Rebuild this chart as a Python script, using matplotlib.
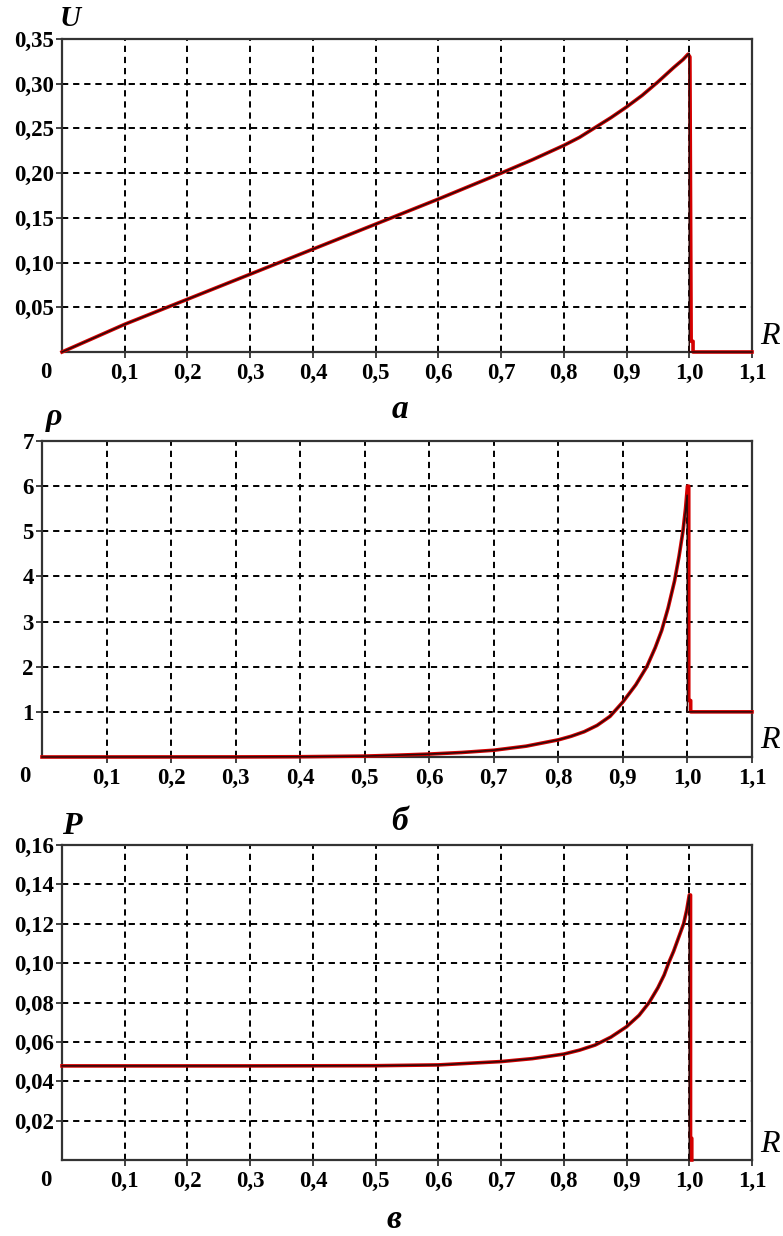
import matplotlib
matplotlib.use("Agg")
import matplotlib.pyplot as plt

plt.rcParams['lines.scale_dashes'] = False

# ---------------- data ----------------
R_ticks = [0.1, 0.2, 0.3, 0.4, 0.5, 0.6, 0.7, 0.8, 0.9, 1.0, 1.1]
R_tick_labels = ["0,1", "0,2", "0,3", "0,4", "0,5", "0,6", "0,7", "0,8", "0,9", "1,0", "1,1"]

U_ticks = [0.05, 0.10, 0.15, 0.20, 0.25, 0.30, 0.35]
U_tick_labels = ["0,05", "0,10", "0,15", "0,20", "0,25", "0,30", "0,35"]
rho_ticks = [1, 2, 3, 4, 5, 6, 7]
rho_tick_labels = ["1", "2", "3", "4", "5", "6", "7"]
P_ticks = [0.02, 0.04, 0.06, 0.08, 0.10, 0.12, 0.14, 0.16]
P_tick_labels = ["0,02", "0,04", "0,06", "0,08", "0,10", "0,12", "0,14", "0,16"]

# velocity
R_U = [0, 0.1, 0.2, 0.3, 0.4, 0.5, 0.6, 0.7, 0.75, 0.8, 0.825, 0.85, 0.875, 0.9, 0.925, 0.95,
       0.975, 0.99, 1.0, 1.0, 1.1]
U_exact = [0, 0.031, 0.059, 0.087, 0.115, 0.143, 0.171, 0.200, 0.215, 0.231, 0.240, 0.251, 0.262,
           0.274, 0.287, 0.302, 0.318, 0.327, 0.334, 0.0, 0.0]
R_U_num = [0, 0.1, 0.2, 0.3, 0.4, 0.5, 0.6, 0.7, 0.75, 0.8, 0.825, 0.85, 0.875, 0.9, 0.925, 0.95,
           0.975, 0.99, 0.998, 1.001, 1.003, 1.006, 1.006, 1.1]
U_num = [0, 0.031, 0.059, 0.087, 0.115, 0.143, 0.171, 0.200, 0.215, 0.231, 0.240, 0.251, 0.262,
         0.274, 0.287, 0.302, 0.318, 0.327, 0.333, 0.330, 0.012, 0.012, 0.0, 0.0]

# density
R_rho = [0, 0.3, 0.4, 0.5, 0.55, 0.6, 0.65, 0.7, 0.75, 0.8, 0.82, 0.84, 0.86, 0.88, 0.9, 0.92,
         0.937, 0.95, 0.96, 0.97, 0.98, 0.987, 0.993, 0.997, 0.9995, 1.0, 1.1]
rho_exact = [0, 0.002, 0.006, 0.02, 0.04, 0.065, 0.10, 0.15, 0.24, 0.38, 0.46, 0.56, 0.70, 0.90,
             1.22, 1.60, 2.0, 2.42, 2.8, 3.3, 3.9, 4.45, 5.0, 5.45, 5.8, 1.0, 1.0]
R_rho_num = [0, 0.3, 0.4, 0.5, 0.55, 0.6, 0.65, 0.7, 0.75, 0.8, 0.82, 0.84, 0.86, 0.88, 0.9, 0.92,
             0.937, 0.95, 0.96, 0.97, 0.98, 0.987, 0.993, 0.997, 1.0, 1.002, 1.002, 1.005, 1.005, 1.1]
rho_num = [0, 0.002, 0.006, 0.02, 0.04, 0.065, 0.10, 0.15, 0.24, 0.38, 0.46, 0.56, 0.70, 0.90,
           1.22, 1.60, 2.0, 2.42, 2.8, 3.3, 3.9, 4.45, 5.0, 5.5, 6.0, 6.0, 1.25, 1.25, 1.0, 1.0]

# pressure
R_P = [0, 0.3, 0.5, 0.6, 0.7, 0.75, 0.8, 0.825, 0.85, 0.875, 0.9, 0.92, 0.936, 0.95, 0.96, 0.967,
       0.975, 0.983, 0.991, 0.996, 1.0, 1.0]
P_exact = [0.0478, 0.0478, 0.0479, 0.0483, 0.050, 0.0515, 0.0538, 0.0558, 0.0584, 0.0624, 0.0677,
           0.0735, 0.080, 0.0875, 0.094, 0.100, 0.106, 0.113, 0.120, 0.127, 0.1346, 0.0]
R_P_num = [0, 0.3, 0.5, 0.6, 0.7, 0.75, 0.8, 0.825, 0.85, 0.875, 0.9, 0.92, 0.936, 0.95, 0.96, 0.967,
           0.975, 0.983, 0.991, 0.996, 1.0, 1.002, 1.002, 1.004, 1.004]
P_num = [0.0478, 0.0478, 0.0479, 0.0483, 0.050, 0.0515, 0.0538, 0.0558, 0.0584, 0.0624, 0.0677,
         0.0735, 0.080, 0.0875, 0.094, 0.100, 0.106, 0.113, 0.120, 0.127, 0.1346, 0.1346, 0.011, 0.011, 0.0]

# ---------------- figure ----------------
W, H = 783, 1236
fig = plt.figure(figsize=(W / 100, H / 100), dpi=100)

def frac(l, r, t, b):
    return [l / W, 1 - b / H, (r - l) / W, (b - t) / H]

SERIF = ['Liberation Serif', 'DejaVu Serif']
TICK_SIZE = 16.5
tick_font = dict(family=SERIF, weight='bold', size=TICK_SIZE)

panels = [
    dict(box=(62, 752, 39, 352), ylim=(0, 0.35), yt=U_ticks, ytl=U_tick_labels,
         rx=R_U, ry=U_exact, nx=R_U_num, ny=U_num, ylab="U", ylab_pos=(70, 18), ylab_size=21,
         zero_pos=(46, 372), cap="а", cap_pos=(400, 409), rpos=(770, 336)),
    dict(box=(42, 752, 441, 757), ylim=(0, 7), yt=rho_ticks, ytl=rho_tick_labels,
         rx=R_rho, ry=rho_exact, nx=R_rho_num, ny=rho_num, ylab="ρ", ylab_pos=(54, 418), ylab_size=23,
         zero_pos=(25, 777), cap="б", cap_pos=(400, 822), rpos=(770, 741)),
    dict(box=(62, 752, 845, 1160), ylim=(0, 0.16), yt=P_ticks, ytl=P_tick_labels,
         rx=R_P, ry=P_exact, nx=R_P_num, ny=P_num, ylab="P", ylab_pos=(72, 826), ylab_size=23,
         zero_pos=(46, 1181), cap="в", cap_pos=(394, 1220), rpos=(770, 1144)),
]

for p in panels:
    ax = fig.add_axes(frac(*p['box']))
    ax.set_xlim(0, 1.1)
    ax.set_ylim(*p['ylim'])
    ax.set_xticks(R_ticks)
    ax.set_xticklabels(R_tick_labels, fontdict=tick_font)
    ax.set_yticks(p['yt'])
    ax.set_yticklabels(p['ytl'], fontdict=tick_font)
    ax.tick_params(axis='both', direction='out', length=4, width=1.3, color='#333333')
    ax.tick_params(axis='x', pad=4)
    ax.tick_params(axis='y', pad=2)
    for s in ax.spines.values():
        s.set_linewidth(1.6)
        s.set_color('#333333')
    ax.grid(True, color='black', linestyle=(0, (4.5, 3.5)), linewidth=1.4)
    ax.set_axisbelow(True)

    ax.plot(p['nx'], p['ny'], color='#d40000', linewidth=2.6, clip_on=False, zorder=4,
            solid_joinstyle='round')
    ax.plot(p['rx'], p['ry'], color='#2a0a0a', linewidth=1.1, clip_on=False, zorder=5)

    fig.text(p['zero_pos'][0] / W, 1 - p['zero_pos'][1] / H, "0", ha='center', va='center',
             family=SERIF, weight='bold', size=TICK_SIZE)
    fig.text(p['ylab_pos'][0] / W, 1 - p['ylab_pos'][1] / H, p['ylab'], ha='center', va='center',
             family=SERIF, style='italic', weight='bold', size=p['ylab_size'])
    fig.text(p['rpos'][0] / W, 1 - p['rpos'][1] / H, "R", ha='center', va='center',
             family=SERIF, style='italic', size=23)
    fig.text(p['cap_pos'][0] / W, 1 - p['cap_pos'][1] / H, p['cap'], ha='center', va='center',
             family=SERIF, style='italic', weight='bold', size=24)

fig.savefig("out.png", dpi=100)
